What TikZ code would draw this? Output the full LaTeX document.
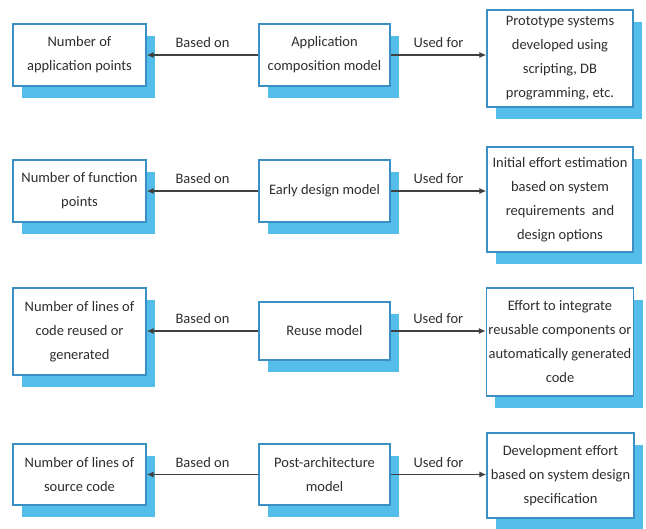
\documentclass[tikz,border=0pt]{standalone}
\usepackage{fontspec}
\setmainfont{Carlito}
\usetikzlibrary{arrows.meta,shadows}
\definecolor{bordc}{HTML}{3A8FC4}
\definecolor{shadc}{HTML}{55BDEA}
\definecolor{txtc}{HTML}{2E2E2E}
\definecolor{arrc}{HTML}{404040}
\begin{document}
\begin{tikzpicture}[x=1pt,y=-1pt,
  box/.style={draw=bordc, line width=1.3pt, fill=white, align=center, inner sep=2pt,
    text=txtc, font=\fontsize{14.5}{24}\selectfont,
    drop shadow={shadow xshift=9pt, shadow yshift=-12pt, fill=shadc, opacity=1}},
  sz/.style 2 args={minimum width=#1pt, minimum height=#2pt},
  arr/.style={draw=arrc, line width=1.2pt, -{Latex[length=7pt,width=6pt]}},
  lbl/.style={text=txtc, font=\fontsize{14.5}{16}\selectfont, above=3pt, midway}]
\useasboundingbox (0,0) rectangle (646,529);

% Row 1
\node[box, sz={133}{62}] (L1) at (79.5,55) {Number of\\application points};
\node[box, sz={131}{62}] (M1) at (324.5,55) {Application\\composition model};
\node[box, sz={146}{97}] (R1) at (560,58.5) {Prototype systems\\developed using\\scripting, DB\\programming, etc.};
\draw[arr] (M1.west) -- (M1.west -| L1.east) node[lbl] {Based on};
\draw[arr] (M1.east) -- (M1.east -| R1.west) node[lbl] {Used for};

% Row 2
\node[box, sz={133}{62}] (L2) at (79.5,191) {Number of function\\points};
\node[box, sz={131}{62}] (M2) at (324.5,191) {Early design model};
\node[box, sz={146}{105}] (R2) at (560,199.5) {Initial effort estimation\\based on system\\requirements\ \ and\\design options};
\draw[arr] (M2.west) -- (M2.west -| L2.east) node[lbl] {Based on};
\draw[arr] (M2.east) -- (M2.east -| R2.west) node[lbl] {Used for};

% Row 3
\node[box, sz={133}{87}] (L3) at (79.5,331.5) {Number of lines of\\code reused or\\generated};
\node[box, sz={131}{58}] (M3) at (324.5,331) {Reuse model};
\node[box, sz={146}{108}] (R3) at (560,342) {Effort to integrate\\reusable components or\\automatically generated\\code};
\draw[arr] (M3.west) -- (M3.west -| L3.east) node[lbl] {Based on};
\draw[arr] (M3.east) -- (M3.east -| R3.west) node[lbl] {Used for};

% Row 4
\node[box, sz={133}{61}] (L4) at (79.5,474.5) {Number of lines of\\source code};
\node[box, sz={131}{61}] (M4) at (324.5,474.5) {Post-architecture\\model};
\node[box, sz={147}{85}] (R4) at (560.5,475.5) {Development effort\\based on system design\\specification};
\draw[arr] (M4.west) -- (M4.west -| L4.east) node[lbl] {Based on};
\draw[arr] (M4.east) -- (M4.east -| R4.west) node[lbl] {Used for};
\end{tikzpicture}
\end{document}
